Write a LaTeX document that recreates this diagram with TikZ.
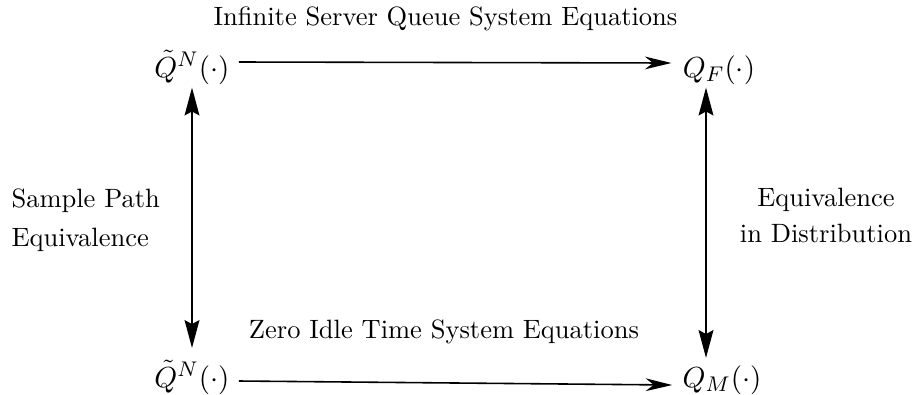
\documentclass[tikz,border=0pt]{standalone}
\usetikzlibrary{arrows.meta,calc}
\begin{document}
\begin{tikzpicture}[x=0.3774pt,y=-0.3774pt,
  lbl/.style={inner sep=0pt},
  mth/.style={anchor=base,font=\fontsize{11}{13}\selectfont},
  harrow/.style={line width=0.6pt,-{Stealth[length=10pt,width=4.8pt,inset=3pt]}},
  varrow/.style={line width=0.6pt,{Stealth[length=10.5pt,width=5.6pt,inset=1.5pt]}-{Stealth[length=10.5pt,width=5.6pt,inset=1.5pt]}}]
\useasboundingbox (0,0) rectangle (917,394);
% math nodes
\node[mth] (a) at (192,77) {$\tilde{Q}^N(\cdot)$};
\node[mth] (b) at (719,77) {$Q_F(\cdot)$};
\node[mth] (c) at (192,387) {$\tilde{Q}^N(\cdot)$};
\node[mth] (d) at (722,387) {$Q_M(\cdot)$};
% labels
\node[lbl,anchor=base] (t1) at (445.5,25) {Infinite Server Queue System Equations};
\node[lbl,anchor=base] (t2) at (444,338) {Zero Idle Time System Equations};
\node[lbl,anchor=west,align=left] (t3) at (11,220) {Sample Path\\[2.7pt]Equivalence};
\node[lbl,anchor=center,align=center] (t4) at (826,215) {Equivalence\\[1.6pt]in Distribution};
% connectors
\draw[harrow] ($(a.base east)+(0,-15)$) -- ($(b.base west)+(-2,-14)$);
\draw[harrow] ($(c.base east)+(0,-6)$) -- ($(d.base west)+(-1,-2)$);
\draw[varrow] ($(a.south)+(0,-6)$) -- ($(c.north)+(0,-3)$);
\draw[varrow] ($(b.south)+(-13,-6)$) -- ($(d.north)+(-16,2)$);
\end{tikzpicture}
\end{document}
